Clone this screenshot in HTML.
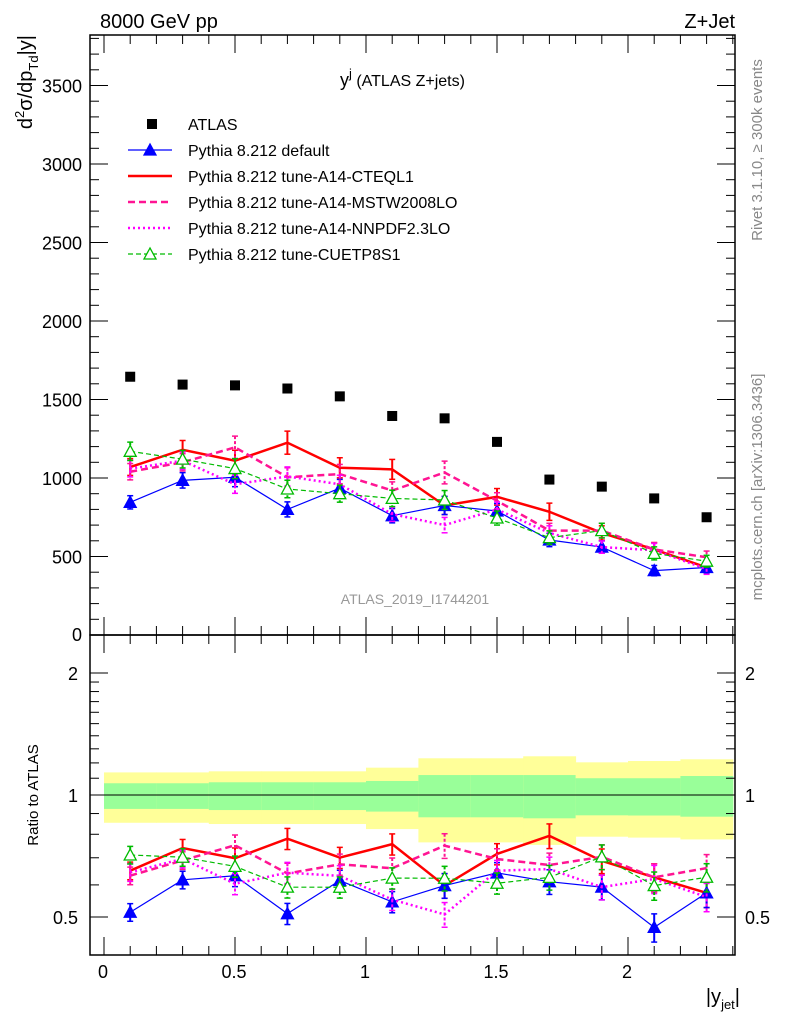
<!DOCTYPE html>
<html><head><meta charset="utf-8"><style>
body{margin:0;background:#fff;}
svg{display:block;font-family:"Liberation Sans",sans-serif;}
</style></head><body>
<svg id="c" width="786" height="1024" viewBox="0 0 786 1024"></svg>
<script>
const xCenters=[0.1,0.3,0.5,0.7,0.9,1.1,1.3,1.5,1.7,1.9,2.1,2.3];
const atlas=[1645,1595,1590,1570,1520,1395,1380,1230,990,945,870,750];
const cteq=[1070,1180,1110,1225,1065,1055,825,880,785,650,545,430];
const def=[845,985,1005,800,935,760,825,790,605,560,410,430];
const mstw=[1040,1100,1195,1005,1025,920,1035,855,665,665,545,495];
const nnpdf=[1060,1110,960,1010,960,770,700,800,650,560,540,420];
const cuetp=[1170,1120,1060,930,900,870,860,745,620,665,520,470];
const relErr=[0.05,0.05,0.06,0.06,0.06,0.06,0.07,0.06,0.07,0.07,0.08,0.08];
const yelUp=[1.137,1.137,1.144,1.144,1.144,1.168,1.232,1.232,1.246,1.204,1.213,1.225];
const yelDn=[0.854,0.854,0.848,0.848,0.848,0.824,0.764,0.764,0.753,0.789,0.785,0.777];
const grnUp=[1.069,1.069,1.075,1.075,1.075,1.083,1.12,1.12,1.12,1.10,1.10,1.114];
const grnDn=[0.924,0.924,0.918,0.918,0.918,0.91,0.881,0.881,0.876,0.891,0.89,0.884];
const yTicks=[500,1000,1500,2000,2500,3000,3500];
const xTickLabels=["0","0.5","1","1.5","2"];

const NS="http://www.w3.org/2000/svg";
const svg=document.getElementById('c');
function el(t,a,p){const e=document.createElementNS(NS,t);for(const k in a)e.setAttribute(k,a[k]);(p||svg).appendChild(e);return e;}
const L=90,R=735,T=35,MB=635,RB=955;
const X=v=>104+262*v;
const Y=v=>635-0.157*v;
const RY=r=>795-176*Math.log(r);

// ratio bands
const gb=el('g',{});
xCenters.forEach((c,i)=>{
  let r=el('rect',{x:X(c-0.1),y:RY(yelUp[i]),width:X(c+0.1)-X(c-0.1)+0.5,height:RY(yelDn[i])-RY(yelUp[i]),fill:'#ffff99'},gb);
  
  r=el('rect',{x:X(c-0.1),y:RY(grnUp[i]),width:X(c+0.1)-X(c-0.1)+0.5,height:RY(grnDn[i])-RY(grnUp[i]),fill:'#99ff99'},gb);
  
});
let one=el('line',{x1:L,x2:R,y1:RY(1),y2:RY(1),stroke:'#000','stroke-width':1});


// frames
[[T,MB],[MB,RB]].forEach(([t,b],k)=>{
  const f=el('rect',{x:L,y:t,width:R-L,height:b-t,fill:'none',stroke:'#000','stroke-width':1.5});
  
  for(let v=0;v<=2.4001;v+=0.1){
    const maj=Math.abs(v/0.5-Math.round(v/0.5))<1e-6;const len=maj?18:9;const x=X(v);
    el('line',{x1:x,x2:x,y1:b,y2:b-len,stroke:'#000','stroke-width':1});
    el('line',{x1:x,x2:x,y1:t,y2:t+len,stroke:'#000','stroke-width':1});
  }
});
for(let v=0;v<=3800;v+=100){const maj=v%500==0;const len=maj?18:9;const y=Y(v);
  el('line',{x1:L,x2:L+len,y1:y,y2:y,stroke:'#000'});el('line',{x1:R,x2:R-len,y1:y,y2:y,stroke:'#000'});}
[0.5,0.6,0.7,0.8,0.9,1,1.1,1.2,1.3,1.4,1.5,1.6,1.7,1.8,1.9,2].forEach(r=>{const maj=(r==0.5||r==1||r==2);const len=maj?18:9;const y=RY(r);
  el('line',{x1:L,x2:L+len,y1:y,y2:y,stroke:'#000'});el('line',{x1:R,x2:R-len,y1:y,y2:y,stroke:'#000'});});

function txt(s,a,name){const t=el('text',a);t.textContent=s;return t;}
txt('0',{x:82,y:641,'font-size':18,'text-anchor':'end'},'y-tick-0');
yTicks.forEach(v=>txt(String(v),{x:82,y:Y(v)+7,'font-size':18,'text-anchor':'end'},'y-tick-label'));
[[2,'2'],[1,'1'],[0.5,'0.5']].forEach(([r,s])=>{txt(s,{x:78,y:RY(r)+7,'font-size':18,'text-anchor':'end'},'ratio-tick-label');txt(s,{x:745,y:RY(r)+7,'font-size':18},'ratio-tick-label-right');});
[103,234,365,496,627].forEach((x,i)=>txt(xTickLabels[i],{x:x,y:978,'font-size':18,'text-anchor':'middle'},'x-tick-label'));

// series
const ser=[
 {d:cteq,c:'#ff0000',w:2.5,da:'',m:'none',n:'cteq'},
 {d:def,c:'#0000ff',w:1.2,da:'',m:'tri',n:'default'},
 {d:mstw,c:'#ff1493',w:2.5,da:'7,4',m:'none',n:'mstw'},
 {d:nnpdf,c:'#ff00ff',w:2.5,da:'2,3',m:'none',n:'nnpdf'},
 {d:cuetp,c:'#00bb00',w:1.2,da:'5,3',m:'otri',n:'cuetp'}];
function tri(x,y,c,fill,g){const p=el('polygon',{points:`${x},${y-6} ${x-6},${y+5} ${x+6},${y+5}`,fill:fill?c:'#fff',stroke:c,'stroke-width':1.3},g);}
function drawSeries(vals,s,yf,panel){
  const g=el('g',{});
  const pts=vals.map((v,i)=>[X(xCenters[i]),yf(v)]);
  vals.forEach((v,i)=>{const x=X(xCenters[i]);const y1=yf(v*(1+relErr[i])),y2=yf(v*(1-relErr[i]));
    el('line',{x1:x,x2:x,y1:y1,y2:y2,stroke:s.c,'stroke-width':2,'stroke-dasharray':s.da?'3,2':''},g);
    el('line',{x1:x-3,x2:x+3,y1:y1,y2:y1,stroke:s.c,'stroke-width':1.5},g);
    el('line',{x1:x-3,x2:x+3,y1:y2,y2:y2,stroke:s.c,'stroke-width':1.5},g);});
  const pl=el('polyline',{points:pts.map(p=>p.join(',')).join(' '),fill:'none',stroke:s.c,'stroke-width':s.w,'stroke-dasharray':s.da},g);
  
  if(s.m!='none')pts.forEach(p=>tri(p[0],p[1],s.c,s.m=='tri',g));
}
ser.forEach(s=>{drawSeries(s.d,s,Y,'main');drawSeries(s.d.map((v,i)=>v/atlas[i]),s,RY,'ratio');});
const ga=el('g',{});
atlas.forEach((v,i)=>{const r=el('rect',{x:X(xCenters[i])-5,y:Y(v)-5,width:10,height:10,fill:'#000'},ga);});

// legend
const lg=el('g',{});
const names=['ATLAS','Pythia 8.212 default','Pythia 8.212 tune-A14-CTEQL1','Pythia 8.212 tune-A14-MSTW2008LO','Pythia 8.212 tune-A14-NNPDF2.3LO','Pythia 8.212 tune-CUETP8S1'];
const lser=[null,ser[1],ser[0],ser[2],ser[3],ser[4]];
names.forEach((n,i)=>{const y=124+26*i;const e=el('g',{},lg);
  if(i==0)el('rect',{x:147,y:y-5,width:10,height:10,fill:'#000'},e);
  else{const s=lser[i];el('line',{x1:128,x2:172,y1:y,y2:y,stroke:s.c,'stroke-width':s.w,'stroke-dasharray':s.da},e);if(s.m!='none')tri(150,y,s.c,s.m=='tri',e);}
  const t=el('text',{x:188,y:y+6,'font-size':16},e);t.textContent=n;});

txt('8000 GeV pp',{x:100,y:28,'font-size':20},'energy-label');
txt('Z+Jet',{x:735,y:28,'font-size':20,'text-anchor':'end'},'process-label');
const tt=txt('',{x:340,y:86,'font-size':18},'plot-title');tt.innerHTML='y<tspan dy="-8" font-size="13">j</tspan><tspan dy="8" font-size="16"> (ATLAS Z+jets)</tspan>';
txt('ATLAS_2019_I1744201',{x:415,y:604,'font-size':14,fill:'#999','text-anchor':'middle'},'analysis-watermark');
txt('Rivet 3.1.10, ≥ 300k events',{x:0,y:0,'font-size':15,fill:'#888','text-anchor':'middle',transform:'translate(762,150) rotate(-90)'},'rivet-label');
txt('mcplots.cern.ch [arXiv:1306.3436]',{x:0,y:0,'font-size':15,fill:'#888','text-anchor':'middle',transform:'translate(762,487) rotate(-90)'},'mcplots-label');
const yt=txt('',{x:0,y:0,'font-size':20,'text-anchor':'end',transform:'translate(32,35) rotate(-90)'},'y-axis-title');
yt.innerHTML='d<tspan dy="-8" font-size="13">2</tspan><tspan dy="8">σ/dp</tspan><tspan dy="6" font-size="13">Td</tspan><tspan dy="-6">|y|</tspan>';
txt('Ratio to ATLAS',{x:0,y:0,'font-size':15,'text-anchor':'middle',transform:'translate(38,795) rotate(-90)'},'ratio-axis-title');
const xt=txt('',{x:740,y:1003,'font-size':20,'text-anchor':'end'},'x-axis-title');
xt.innerHTML='|y<tspan dy="6" font-size="13">jet</tspan><tspan dy="-6">|</tspan>';
</script>
</body></html>
